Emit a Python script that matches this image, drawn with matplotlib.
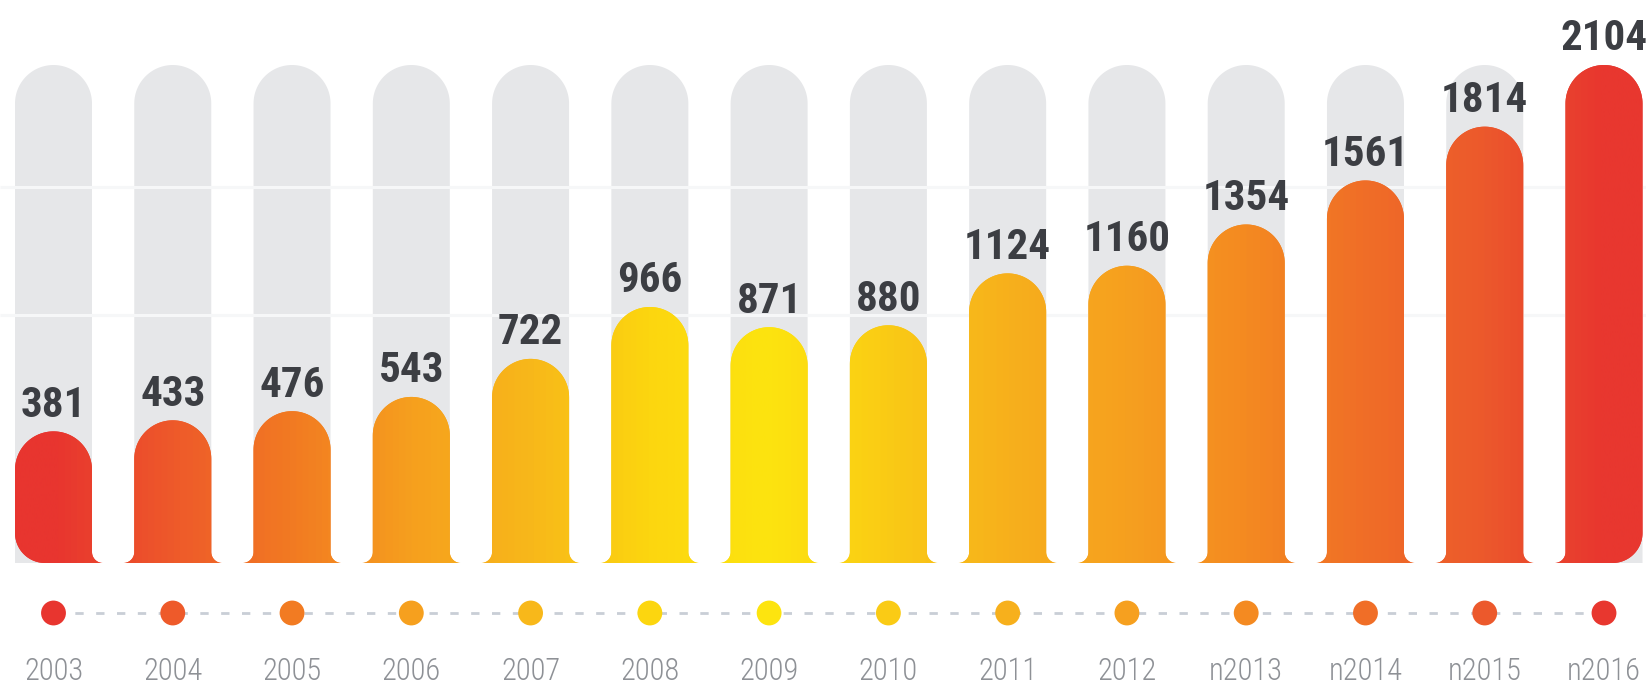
import numpy as np
import matplotlib
matplotlib.use("Agg")
import matplotlib.pyplot as plt
from matplotlib.path import Path
from matplotlib.patches import PathPatch
from matplotlib.colors import LinearSegmentedColormap
from matplotlib import font_manager as fm

# ---------------- data ----------------
years = ["2003", "2004", "2005", "2006", "2007", "2008", "2009", "2010",
         "2011", "2012", "n2013", "n2014", "n2015", "n2016"]
values = [381, 433, 476, 543, 722, 966, 871, 880, 1124, 1160, 1354, 1561, 1814, 2104]
bar_colors = ["#E8352F", "#EE5A2A", "#F27B22", "#F6A01E", "#F8B81A", "#FCD60F",
              "#FDE40F", "#FACB15", "#F7B01C", "#F6A01F", "#F48A21", "#F06E27",
              "#EC592C", "#E8372F"]
base_value = -238          # visual start of the bars (axis offset of the infographic)
grid_levels = [928, 1530]  # faint white bands on the grey tracks

# ---------------- fonts ----------------
names = {f.name for f in fm.fontManager.ttflist}
def pick(cands):
    for c in cands:
        if c in names:
            return c
    return "DejaVu Sans"
cond = pick(["Roboto Condensed", "Open Sans Condensed", "Liberation Sans Narrow",
             "Noto Sans Condensed", "DejaVu Sans"])
has_dv_cond = any(f.name == "DejaVu Sans" and f.stretch == "condensed" for f in fm.fontManager.ttflist)

# ---------------- layout (pixels) ----------------
W, H = 1646, 687
first_px, step_px = 53.5, 119.27
bar_w_px = 77
base_px, top_px = 563, 65
dot_px, year_px = 613, 680
flare_px, corner_px = 11, 30

fig = plt.figure(figsize=(W / 100, H / 100), dpi=100)
ax = fig.add_axes([0, 0, 1, 1])
ax.axis("off")

vmax = max(values)
u = (vmax - base_value) / (base_px - top_px)      # value units per pixel
x0 = -first_px / step_px
x1 = (W - first_px) / step_px
ax.set_xlim(x0, x1)
ax.set_ylim(base_value - (H - base_px) * u, vmax + top_px * u)

hw = bar_w_px / 2 / step_px
rx, ry = hw, bar_w_px / 2 * u
fx, fy = flare_px / step_px, flare_px * u
cx, cy = corner_px / step_px, corner_px * u
n = len(values)

def arc(xc, yc, ax_, ay_, t0, t1, m=40):
    t = np.linspace(t0, t1, m)
    return list(zip(xc + ax_ * np.cos(t), yc + ay_ * np.sin(t)))

def bar_path(xc, top, left, right, bottom=base_value):
    xl, xr = xc - hw, xc + hw
    pts = []
    if left == "flare":
        pts += arc(xl - fx, bottom + fy, fx, fy, 0, -np.pi / 2)
    elif left == "round":
        pts += arc(xl + cx, bottom + cy, cx, cy, np.pi, 1.5 * np.pi)
    else:
        pts += [(xl, bottom)]
    if right == "flare":
        pts += arc(xr + fx, bottom + fy, fx, fy, 1.5 * np.pi, np.pi)
    elif right == "round":
        pts += arc(xr - cx, bottom + cy, cx, cy, -0.5 * np.pi, 0)
    else:
        pts += [(xr, bottom)]
    pts += arc(xc, top - ry, rx, ry, 0, np.pi, 60)
    pts.append(pts[0])
    return Path(pts, closed=True)

# grey tracks
for i in range(n):
    p = bar_path(i, vmax, "plain", "plain")
    ax.add_patch(PathPatch(p, facecolor="#E6E7E9", edgecolor="none", zorder=1))
ax.hlines(grid_levels, x0, x1, colors="#F6F7F8", lw=2.2, zorder=1.5)

# gradient
xs = np.arange(n)
pos = [(x - x0) / (x1 - x0) for x in xs]
stops = [(0.0, bar_colors[0])] + list(zip(pos, bar_colors)) + [(1.0, bar_colors[-1])]
cmap = LinearSegmentedColormap.from_list("grad", stops)
grad = np.linspace(0, 1, 1600).reshape(1, -1)

for i, v in enumerate(values):
    left = "round" if i == 0 else "flare"
    right = "round" if i == n - 1 else "flare"
    p = bar_path(i, v, left, right)
    patch = PathPatch(p, facecolor=bar_colors[i], edgecolor="none", zorder=2)
    ax.add_patch(patch)
    im = ax.imshow(grad, cmap=cmap, extent=(x0, x1, base_value - 5 * u, vmax + 5 * u),
                   aspect="auto", interpolation="bilinear", zorder=2.1)
    im.set_clip_path(patch)
    lab_kw = dict(fontsize=31, fontweight="bold", color="#3C3E43", family=cond)
    if cond == "DejaVu Sans":
        lab_kw["fontsize"] = 22
        if has_dv_cond:
            lab_kw["fontstretch"] = "condensed"
    ax.annotate(str(v), (i, v), xytext=(0, 10.5), textcoords="offset points",
                ha="center", va="baseline", zorder=4, **lab_kw)

ax.set_xlim(x0, x1)
ax.set_ylim(base_value - (H - base_px) * u, vmax + top_px * u)

# timeline
dot_y = base_value - (dot_px - base_px) * u
year_y = base_value - (year_px - base_px) * u
ax.plot([0, n - 1], [dot_y, dot_y], ls=(0, (3, 4.5)), color="#C9CED6", lw=2, zorder=2)
ax.scatter(xs, [dot_y] * n, s=320, c=bar_colors, edgecolors="none", zorder=3)
yr_kw = dict(fontsize=22, color="#8E9196", family=cond, fontweight="light")
if cond == "DejaVu Sans":
    yr_kw["fontsize"] = 16
    if has_dv_cond:
        yr_kw["fontstretch"] = "condensed"
for i, y in enumerate(years):
    ax.text(i, year_y, y, ha="center", va="baseline", zorder=4, **yr_kw)

fig.savefig("out.png", dpi=100, facecolor="white")
